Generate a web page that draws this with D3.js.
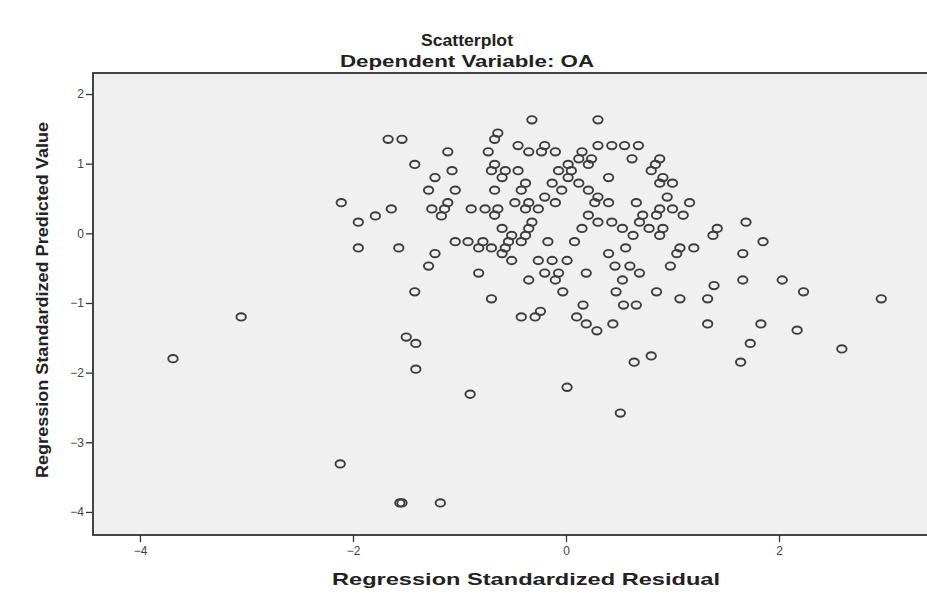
<!DOCTYPE html>
<meta charset="utf-8">
<style>
  body { margin: 0; background: #fff; }
  text { font-family: "Liberation Sans", Arial, sans-serif; }
</style>

<!-- Load d3.js -->
<script src="https://d3js.org/d3.v7.min.js"></script>

<!-- Create a div where the graph will take place -->
<div id="my_dataviz"></div>

<script>

// tick values and labels
var xTicks = [-4, -2, 0, 2];
var yTicks = [2, 1, 0, -1, -2, -3, -4];

var chartTitle = "Scatterplot";
var chartSubtitle = "Dependent Variable: OA";
var xLabel = "Regression Standardized Residual";
var yLabel = "Regression Standardized Predicted Value";

// outlying cases: [residual, predicted]
var outliers = [
  [-3.69, -1.80], [-3.05, -1.20], [-2.12, -3.31], [-1.56, -3.87], [-1.54, -3.87],
  [-1.18, -3.87], [-1.50, -1.49], [-1.41, -1.58], [-1.41, -1.95], [-0.90, -2.31],
  [0.01, -2.21], [0.51, -2.58], [0.64, -1.85], [0.80, -1.76], [0.29, -1.40]
];

// right side cases
var rightCases = [
  [1.64, -1.85], [1.73, -1.58], [2.17, -1.39], [2.59, -1.66], [2.96, -0.94],
  [2.23, -0.84], [2.03, -0.67], [1.83, -1.30], [1.33, -1.30], [1.33, -0.94],
  [1.07, -0.94], [1.39, -0.75], [1.66, -0.67], [1.66, -0.29], [1.85, -0.12],
  [1.69, 0.16], [1.42, 0.07], [1.38, -0.03], [1.20, -0.21], [1.07, -0.21],
  [1.04, -0.29], [1.16, 0.44], [1.10, 0.26], [0.98, -0.47], [0.85, -0.84]
];

// left of the main cloud
var leftCases = [
  [-1.67, 1.35], [-1.54, 1.35], [-1.11, 1.17], [-1.42, 0.99], [-1.07, 0.90],
  [-1.23, 0.80], [-1.29, 0.62], [-1.04, 0.62], [-1.11, 0.44], [-2.11, 0.44],
  [-1.64, 0.35], [-1.26, 0.35], [-1.14, 0.35], [-0.89, 0.35], [-1.17, 0.25],
  [-1.79, 0.25], [-1.95, 0.16], [-1.95, -0.21], [-1.57, -0.21], [-1.04, -0.12],
  [-0.92, -0.12], [-1.23, -0.29], [-1.29, -0.47], [-1.42, -0.84]
];

// main cloud, grouped by predicted value: residuals at each level
var cloudLevels = [1.63, 1.44, 1.35, 1.26, 1.17, 1.07, 0.99, 0.90, 0.80, 0.72, 0.62, 0.52,
  0.44, 0.35, 0.26, 0.16, 0.07, -0.03, -0.12, -0.21, -0.29, -0.39, -0.47, -0.57,
  -0.67, -0.84, -0.94, -1.03, -1.12, -1.20, -1.30];
var cloudResiduals = [
  [-0.32, 0.30],
  [-0.64],
  [-0.67],
  [-0.45, -0.20, 0.30, 0.43, 0.55, 0.68],
  [-0.73, -0.35, -0.23, -0.10, 0.15],
  [0.12, 0.24, 0.62, 0.88],
  [-0.67, 0.02, 0.21, 0.84],
  [-0.70, -0.57, -0.45, -0.07, 0.05, 0.80],
  [-0.60, 0.02, 0.40, 0.91],
  [-0.38, -0.13, 0.12, 0.88, 1.00],
  [-0.67, -0.42, -0.04, 0.21],
  [-0.20, 0.30, 0.95],
  [-0.48, -0.35, -0.10, 0.27, 0.40, 0.66],
  [-0.76, -0.64, -0.38, -0.26, 0.88, 1.00],
  [-0.67, 0.21, 0.72, 0.85],
  [-0.32, 0.30, 0.43, 0.69],
  [-0.60, -0.35, 0.15, 0.53, 0.78, 0.91],
  [-0.51, -0.38, 0.63, 0.88],
  [-0.78, -0.54, -0.42, -0.17, 0.08],
  [-0.82, -0.70, -0.57, 0.56],
  [-0.60, 0.40],
  [-0.51, -0.26, -0.13, 0.01],
  [0.46, 0.60],
  [-0.82, -0.20, -0.07, 0.19, 0.69],
  [-0.35, -0.10, 0.53],
  [-0.03, 0.47],
  [-0.70],
  [0.16, 0.54, 0.66],
  [-0.24],
  [-0.42, -0.29, 0.10],
  [0.19, 0.44]
];

// gather everything into one list of {x, y}
var data = [];
outliers.concat(rightCases, leftCases).forEach(function(p) { data.push({x: p[0], y: p[1]}); });
cloudLevels.forEach(function(lv, i) {
  cloudResiduals[i].forEach(function(r) { data.push({x: r, y: lv}); });
});

// set the dimensions and margins of the graph
var margin = {top: 73, right: -4, bottom: 60, left: 93},
    width = 927 - margin.left - margin.right,
    height = 595 - margin.top - margin.bottom;

var svg = d3.select("#my_dataviz")
  .append("svg")
    .attr("width", 927)
    .attr("height", 595)
    .style("display", "block");

var g = svg.append("g")
    .attr("transform", "translate(" + margin.left + "," + margin.top + ")");

var x = d3.scaleLinear().domain([-4.441, 3.427]).range([0, width]);
var y = d3.scaleLinear().domain([-4.331, 2.302]).range([height, 0]);

// plot background
g.append("rect")
  .attr("x", 0).attr("y", 0)
  .attr("width", width).attr("height", height)
  .attr("fill", "#f0f0f0")
  .attr("stroke", "#444")
  .attr("stroke-width", 2);

// axes
var xAxis = g.append("g")
  .attr("transform", "translate(0," + height + ")")
  .call(d3.axisBottom(x).tickValues(xTicks).tickSize(7).tickFormat(d3.format("d")));
var yAxis = g.append("g")
  .call(d3.axisLeft(y).tickValues(yTicks).tickSize(7).tickFormat(d3.format("d")));

[xAxis, yAxis].forEach(function(a) {
  a.select(".domain").remove();
  a.selectAll(".tick line").attr("stroke", "#333").attr("stroke-width", 1.3);
  a.selectAll(".tick text")
    .attr("fill", "#444")
    .style("font-size", "12px");
});
xAxis.selectAll(".tick text").attr("dy", "0.85em");
yAxis.selectAll(".tick text").attr("x", -9);

// points
g.append("g")
  .selectAll("ellipse")
  .data(data)
  .enter().append("ellipse")
    .attr("cx", function(d) { return x(d.x); })
    .attr("cy", function(d) { return y(d.y); })
    .attr("rx", 4.7)
    .attr("ry", 3.7)
    .attr("fill", "none")
    .attr("stroke", "#3d3d3d")
    .attr("stroke-width", 1.9);

// titles (the source is stretched sideways, so widths are fixed)
function title(txt, tx, ty, len, rot) {
  svg.append("text")
    .attr("transform", "translate(" + tx + "," + ty + ")" + (rot ? " rotate(-90)" : ""))
    .attr("text-anchor", "middle")
    .attr("textLength", len)
    .attr("lengthAdjust", "spacingAndGlyphs")
    .style("font-size", "17px").style("font-weight", "bold").attr("fill", "#222")
    .text(txt);
}
title(chartTitle, 467, 46, 92);
title(chartSubtitle, 467, 67, 254);
title(xLabel, 526, 585, 388);
title(yLabel, 48, 300, 356, true);

</script>
